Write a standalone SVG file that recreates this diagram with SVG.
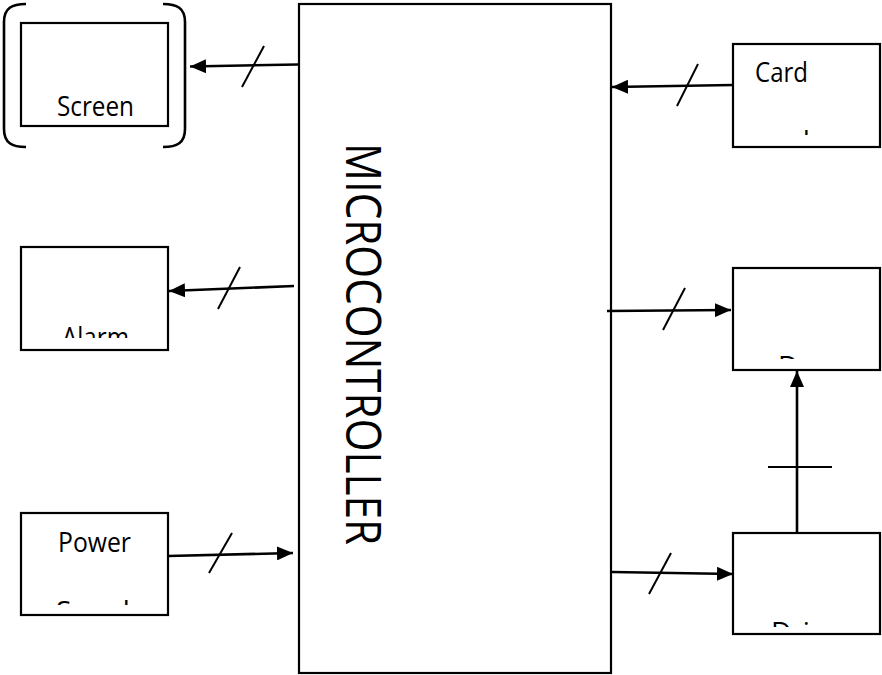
<svg xmlns="http://www.w3.org/2000/svg" width="882" height="675" viewBox="0 0 882 675">
<style>
.box{fill:#fff;stroke:#000;stroke-width:2.2}
.ln{fill:none;stroke:#000;stroke-width:2.6}
.sl{fill:none;stroke:#000;stroke-width:2}
.t{font-family:"Open Sans","Liberation Sans",sans-serif;font-size:28px;fill:#000}
.big{font-size:50px}
</style>
<defs>
<marker id="ah" markerUnits="userSpaceOnUse" markerWidth="17" markerHeight="14" refX="16" refY="7" orient="auto">
<path d="M0,0 L16,7 L0,14 z" fill="#000"/>
</marker>
<clipPath id="cCard"><rect x="733" y="125" width="147" height="10"/></clipPath>
<clipPath id="cAlarm"><rect x="21" y="320" width="147" height="18"/></clipPath>
<clipPath id="cPower"><rect x="21" y="595" width="147" height="10"/></clipPath>
<clipPath id="cDoor"><rect x="733" y="350" width="147" height="9"/></clipPath>
<clipPath id="cDriver"><rect x="733" y="615" width="147" height="12"/></clipPath>
</defs>
<rect width="882" height="675" fill="#fff"/>

<g id="microcontroller">
<rect class="box" x="299" y="4" width="312" height="669"/>
<text class="t big" transform="translate(346,143) rotate(90)" textLength="402" lengthAdjust="spacingAndGlyphs">MICROCONTROLLER</text>
</g>

<g id="screen">
<path class="ln" stroke-width="2" d="M26,4 C12,4 4,8 4,22 L4,129 C4,143 12,147 26,147"/>
<path class="ln" stroke-width="2" d="M163,4 C177,4 185,8 185,22 L185,129 C185,143 177,147 163,147"/>
<rect class="box" x="21" y="23" width="147" height="103"/>
<text class="t" x="57" y="116" textLength="77" lengthAdjust="spacingAndGlyphs">Screen</text>
</g>

<g id="alarm">
<rect class="box" x="21" y="247" width="147" height="103"/>
<text class="t" x="62" y="347" textLength="67" lengthAdjust="spacingAndGlyphs" clip-path="url(#cAlarm)">Alarm</text>
</g>

<g id="power-supply">
<rect class="box" x="21" y="513" width="147" height="102"/>
<text class="t" x="58" y="552" textLength="73" lengthAdjust="spacingAndGlyphs">Power</text>
<text class="t" x="56" y="621" clip-path="url(#cPower)">Supply</text>
</g>

<g id="card-reader">
<rect class="box" x="733" y="44" width="147" height="103"/>
<text class="t" x="755" y="82" textLength="53" lengthAdjust="spacingAndGlyphs">Card</text>
<text class="t" x="750" y="151" clip-path="url(#cCard)">reader</text>
</g>

<g id="door">
<rect class="box" x="733" y="268" width="147" height="102"/>
<text class="t" x="778" y="376" clip-path="url(#cDoor)">Door</text>
</g>

<g id="driver">
<rect class="box" x="733" y="533" width="147" height="101"/>
<text class="t" x="771" y="642" clip-path="url(#cDriver)">Driver</text>
</g>

<g id="connectors">
<line class="ln" x1="298" y1="64.5" x2="190" y2="66.5" marker-end="url(#ah)"/>
<line class="sl" x1="242" y1="87" x2="264" y2="46"/>

<line class="ln" x1="294" y1="286" x2="169" y2="291" marker-end="url(#ah)"/>
<line class="sl" x1="218" y1="309" x2="240" y2="267"/>

<line class="ln" x1="168" y1="556" x2="293" y2="553" marker-end="url(#ah)"/>
<line class="sl" x1="209" y1="573" x2="232" y2="533"/>

<line class="ln" x1="733" y1="85" x2="612" y2="87" marker-end="url(#ah)"/>
<line class="sl" x1="677" y1="106" x2="698" y2="64"/>

<line class="ln" x1="607" y1="311" x2="731" y2="310" marker-end="url(#ah)"/>
<line class="sl" x1="663" y1="330" x2="685" y2="288"/>

<line class="ln" x1="612" y1="572" x2="733" y2="574" marker-end="url(#ah)"/>
<line class="sl" x1="649" y1="594" x2="671" y2="553"/>

<line class="ln" x1="797" y1="533" x2="797" y2="371" marker-end="url(#ah)"/>
<line class="sl" x1="768" y1="467" x2="832" y2="467"/>
</g>
</svg>
